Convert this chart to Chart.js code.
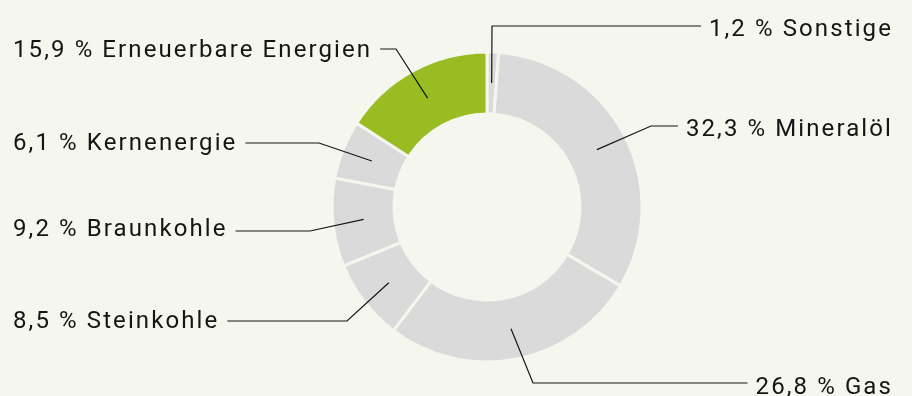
<!DOCTYPE html>
<html lang="de">
<head>
<meta charset="utf-8">
<title>Primärenergieverbrauch</title>
<script src="https://cdn.jsdelivr.net/npm/chart.js@4/dist/chart.umd.min.js"></script>
<style>
    html, body { margin: 0; padding: 0; background: #f5f6ee; }
    #chart { display: block; }
</style>
</head>
<body>
<canvas id="chart" width="912" height="396"></canvas>
<script>

// Data, clockwise from 12 o'clock
var categories = ['Sonstige', 'Mineralöl', 'Gas', 'Steinkohle', 'Braunkohle', 'Kernenergie', 'Erneuerbare Energien'];
var shares = [1.2, 32.3, 26.8, 8.5, 9.2, 6.1, 15.9];
var highlighted = ['Erneuerbare Energien'];

var BG = '#f5f6ee';
var GREY = '#dadada';
var GREEN = '#98bc22';
var INK = '#151515';

// Where each label goes and where its leader line bends (same order as categories)
var labelLayout = [
    { side: 'right', lineY: 26,  baseY: 36,  elbowX: 492 },
    { side: 'right', lineY: 126, baseY: 136, elbowX: 651 },
    { side: 'right', lineY: 383, baseY: 394, elbowX: 533 },
    { side: 'left',  lineY: 321, baseY: 328, elbowX: 347 },
    { side: 'left',  lineY: 231, baseY: 236, elbowX: 310 },
    { side: 'left',  lineY: 143, baseY: 150, elbowX: 319 },
    { side: 'left',  lineY: 49,  baseY: 57,  elbowX: 396 }
];
var LEFT_X = 13;
var RIGHT_X = 893;
var GAP = 8;

function formatShare(v) {
    return v.toFixed(1).replace('.', ',') + ' %';
}

// Draws labels and leader lines pointing into the middle of each ring segment
var leaderLabels = {
    id: 'leaderLabels',
    afterDraw: (chart) => {
        var ctx = chart.ctx;
        var arcs = chart.getDatasetMeta(0).data;
        ctx.save();
        ctx.font = '24px Roboto';
        ctx.letterSpacing = '2.1px';
        ctx.fillStyle = INK;
        ctx.strokeStyle = INK;
        ctx.lineWidth = 1.2;
        ctx.textBaseline = 'alphabetic';

        arcs.forEach((arc, i) => {
            var p = arc.getProps(['x', 'y', 'startAngle', 'endAngle', 'innerRadius', 'outerRadius'], true);
            var mid = (p.startAngle + p.endAngle) / 2;
            var r = (p.innerRadius + p.outerRadius) / 2;
            var ax = p.x + Math.cos(mid) * r;
            var ay = p.y + Math.sin(mid) * r;

            var lay = labelLayout[i];
            var text = formatShare(shares[i]) + ' ' + categories[i];
            var w = ctx.measureText(text).width;
            var lineEnd;
            if (lay.side == 'left') {
                ctx.textAlign = 'left';
                ctx.fillText(text, LEFT_X, lay.baseY);
                lineEnd = LEFT_X + w + GAP;
            } else {
                ctx.textAlign = 'right';
                ctx.fillText(text, RIGHT_X, lay.baseY);
                lineEnd = RIGHT_X - w - GAP;
            }

            ctx.beginPath();
            ctx.moveTo(lineEnd, lay.lineY);
            ctx.lineTo(lay.elbowX, lay.lineY);
            ctx.lineTo(ax, ay);
            ctx.stroke();
        });
        ctx.restore();
    }
};

var config = {
    type: 'doughnut',
    data: {
        labels: categories,
        datasets: [{
            data: shares,
            backgroundColor: categories.map(c => highlighted.includes(c) ? GREEN : GREY),
            borderColor: BG,
            borderWidth: 3,
            hoverOffset: 0
        }]
    },
    options: {
        responsive: false,
        animation: false,
        radius: 155,
        cutout: '60%',
        layout: { padding: { left: 333, right: 271, top: 53, bottom: 35 } },
        plugins: {
            legend: { display: false },
            tooltip: { enabled: false }
        },
        events: []
    },
    plugins: [leaderLabels]
};

var chartObj = new Chart(document.getElementById('chart'), config);
</script>
</body>
</html>
